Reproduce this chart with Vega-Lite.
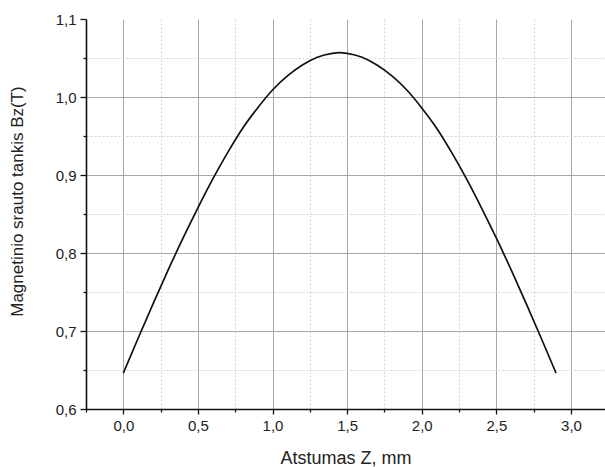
{
  "$schema": "https://vega.github.io/schema/vega-lite/v6.json",
  "autosize": "none",
  "padding": {"left": 86, "top": 19, "right": 0, "bottom": 58},
  "width": 519,
  "height": 390,
  "background": "white",
  "view": {"stroke": null},
  "config": {
    "font": "Liberation Sans",
    "axis": {
      "labelFont": "Liberation Sans",
      "titleFont": "Liberation Sans",
      "labelFontSize": 15,
      "titleFontSize": 18,
      "titleFontWeight": "normal",
      "labelColor": "#222",
      "titleColor": "#222",
      "domainColor": "#111",
      "domainWidth": 1.6,
      "tickColor": "#111",
      "tickWidth": 1.3
    }
  },
  "data": {
    "values": [
      {"z": 0.0, "bz": 0.646},
      {"z": 0.1, "bz": 0.691},
      {"z": 0.2, "bz": 0.735},
      {"z": 0.3, "bz": 0.778},
      {"z": 0.4, "bz": 0.819},
      {"z": 0.5, "bz": 0.858},
      {"z": 0.6, "bz": 0.895},
      {"z": 0.7, "bz": 0.929},
      {"z": 0.8, "bz": 0.960},
      {"z": 0.9, "bz": 0.986},
      {"z": 1.0, "bz": 1.009},
      {"z": 1.1, "bz": 1.027},
      {"z": 1.2, "bz": 1.041},
      {"z": 1.3, "bz": 1.051},
      {"z": 1.4, "bz": 1.056},
      {"z": 1.45, "bz": 1.057},
      {"z": 1.5, "bz": 1.056},
      {"z": 1.6, "bz": 1.051},
      {"z": 1.7, "bz": 1.041},
      {"z": 1.8, "bz": 1.027},
      {"z": 1.9, "bz": 1.009},
      {"z": 2.0, "bz": 0.986},
      {"z": 2.1, "bz": 0.960},
      {"z": 2.2, "bz": 0.929},
      {"z": 2.3, "bz": 0.895},
      {"z": 2.4, "bz": 0.858},
      {"z": 2.5, "bz": 0.819},
      {"z": 2.6, "bz": 0.778},
      {"z": 2.7, "bz": 0.735},
      {"z": 2.8, "bz": 0.691},
      {"z": 2.9, "bz": 0.646}
    ]
  },
  "mark": {"type": "line", "color": "#111", "strokeWidth": 1.7, "interpolate": "monotone", "clip": true},
  "encoding": {
    "x": {
      "field": "z",
      "type": "quantitative",
      "scale": {"domain": [-0.25, 3.228], "nice": false, "zero": false},
      "axis": {
        "title": "Atstumas Z, mm",
        "values": [-0.25, 0, 0.25, 0.5, 0.75, 1.0, 1.25, 1.5, 1.75, 2.0, 2.25, 2.5, 2.75, 3.0],
        "labelExpr": "abs(datum.value*2 - round(datum.value*2)) > 0.01 ? '' : replace(format(datum.value, '.1f'), '.', ',')",
        "labelPadding": 4,
        "labelFlush": false,
        "titlePadding": 16,
        "grid": true,
        "gridColor": {"condition": {"test": "abs(datum.value*2 - round(datum.value*2)) > 0.01", "value": "#d4d4d4"}, "value": "#a8a8a8"},
        "gridDash": {"condition": {"test": "abs(datum.value*2 - round(datum.value*2)) > 0.01", "value": [2, 2]}, "value": []},
        "gridWidth": 1,
        "gridOpacity": {"condition": {"test": "datum.value < -0.2", "value": 0}, "value": 1},
        "tickSize": {"condition": {"test": "abs(datum.value*2 - round(datum.value*2)) > 0.01", "value": 3}, "value": 5}
      }
    },
    "y": {
      "field": "bz",
      "type": "quantitative",
      "scale": {"domain": [0.6, 1.1], "nice": false, "zero": false},
      "axis": {
        "title": "Magnetinio srauto tankis Bz(T)",
        "titleFontSize": 17,
        "titleY": 182,
        "values": [0.6, 0.65, 0.7, 0.75, 0.8, 0.85, 0.9, 0.95, 1.0, 1.05, 1.1],
        "labelExpr": "abs(datum.value*10 - round(datum.value*10)) > 0.01 ? '' : replace(format(datum.value, '.1f'), '.', ',')",
        "labelPadding": 4,
        "labelFlush": false,
        "titlePadding": 29,
        "grid": true,
        "gridColor": {"condition": {"test": "abs(datum.value*10 - round(datum.value*10)) > 0.01", "value": "#d4d4d4"}, "value": "#a8a8a8"},
        "gridDash": {"condition": {"test": "abs(datum.value*10 - round(datum.value*10)) > 0.01", "value": [2, 2]}, "value": []},
        "gridWidth": 1,
        "gridOpacity": {"condition": {"test": "datum.value > 1.09 || datum.value < 0.61", "value": 0}, "value": 1},
        "tickSize": {"condition": {"test": "abs(datum.value*10 - round(datum.value*10)) > 0.01", "value": 3}, "value": 6}
      }
    }
  }
}
